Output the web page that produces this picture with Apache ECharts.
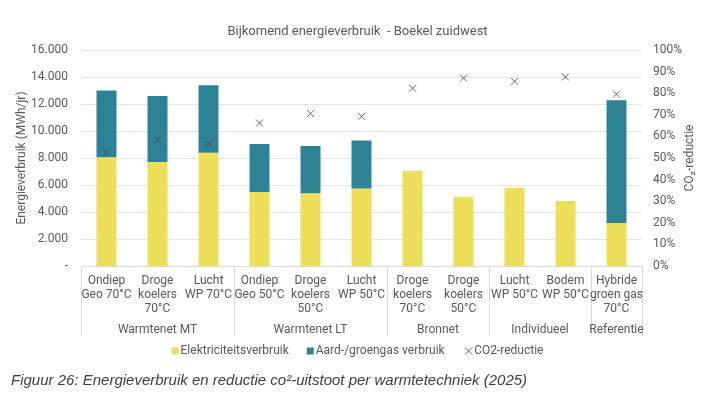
<!DOCTYPE html>
<html>
<head>
<meta charset="utf-8">
<script src="https://cdn.jsdelivr.net/npm/echarts@6/dist/echarts.min.js"></script>
<style>
html,body{margin:0;padding:0;background:#fff;}
#c{width:715px;height:393px;}
</style>
</head>
<body>
<div id="c"></div>
<script>
const categories = ["Ondiep\nGeo 70°C", "Droge\nkoelers\n70°C", "Lucht\nWP 70°C", "Ondiep\nGeo 50°C", "Droge\nkoelers\n50°C", "Lucht\nWP 50°C", "Droge\nkoelers\n70°C", "Droge\nkoelers\n50°C", "Lucht\nWP 50°C", "Bodem\nWP 50°C", "Hybride\ngroen gas\n70°C"];
const groupNames = ["Warmtenet MT", "Warmtenet LT", "Bronnet", "Individueel", "Referentie"];
const groupSizes = [3, 3, 2, 2, 1];
const elektriciteit = [8050, 7700, 8390, 5480, 5385, 5750, 7040, 5110, 5800, 4815, 3185];
const gas = [4950, 4900, 5000, 3550, 3500, 3550, 0, 0, 0, 0, 9100];
const co2 = [52.6, 58.6, 56.6, 66.2, 70.5, 69.3, 82.3, 87.0, 85.5, 87.5, 79.6];

// group boundaries and centers derived from group sizes
const bounds = [0];
groupSizes.forEach(s => bounds.push(bounds[bounds.length - 1] + s));
const centers = groupSizes.map((s, i) => bounds[i] + s / 2);

const txt = '#595959';
const font = 'Roboto';
const crossPath = 'path://M0,0L10,10M10,0L0,10';

const chart = echarts.init(document.getElementById('c'));
chart.setOption({
  animation: false,
  textStyle: { fontFamily: font, color: txt },
  title: [
    { text: 'Bijkomend energieverbruik  - Boekel zuidwest', left: 'center', top: 20,
      textStyle: { fontFamily: font, fontSize: 13, fontWeight: 'normal', color: txt } },
    { text: 'Figuur 26: Energieverbruik en reductie co²-uitstoot per warmtetechniek (2025)', left: 6, top: 368,
      textStyle: { fontFamily: 'Liberation Sans', fontSize: 15, fontStyle: 'italic', fontWeight: 'normal', color: '#404040' } }
  ],
  legend: {
    left: 'center', top: 340, itemWidth: 7, itemHeight: 7, itemGap: 18,
    textStyle: { fontFamily: font, fontSize: 12, color: txt, padding: [0, 0, 0, -3] },
    data: [
      { name: 'Elektriciteitsverbruik', icon: 'rect' },
      { name: 'Aard-/groengas verbruik', icon: 'rect' },
      { name: 'CO2-reductie', icon: crossPath, itemStyle: { color: 'none', borderColor: '#404040', borderWidth: 1 } }
    ]
  },
  grid: { left: 81, right: 73, top: 50, bottom: 127, containLabel: false },
  xAxis: [
    {
      type: 'category', data: categories, gridIndex: 0, position: 'bottom',
      axisLine: { show: true, lineStyle: { color: '#d9d9d9' } },
      axisTick: { show: false },
      axisLabel: { interval: 0, fontFamily: font, fontSize: 12, color: txt, lineHeight: 14, margin: 8 },
      splitLine: { show: false }
    },
    {
      type: 'value', min: 0, max: categories.length, gridIndex: 0, position: 'bottom',
      axisLine: { show: false },
      axisTick: { show: true, customValues: bounds, length: 70, lineStyle: { color: '#d9d9d9' } },
      axisLabel: {
        customValues: centers, margin: 58, fontFamily: font, fontSize: 12, color: txt,
        formatter: v => { const i = centers.indexOf(v); return i >= 0 ? groupNames[i] : ''; }
      },
      splitLine: { show: false }
    }
  ],
  yAxis: [
    {
      type: 'value', min: 0, max: 16000, interval: 2000,
      name: 'Energieverbruik (MWh/jr)', nameLocation: 'middle', nameGap: 53, nameRotate: 90,
      nameMoveOverlap: false,
      nameTextStyle: { fontFamily: font, fontSize: 12, color: txt },
      axisLine: { show: false }, axisTick: { show: false },
      axisLabel: { fontFamily: font, fontSize: 12, color: txt, margin: 13,
        formatter: v => v === 0 ? '-' : String(v).replace(/\B(?=(\d{3})+(?!\d))/g, '.') },
      splitLine: { lineStyle: { color: '#e4e4e4' } }
    },
    {
      type: 'value', min: 0, max: 100, interval: 10, position: 'right',
      name: 'CO₂-reductie', nameLocation: 'middle', nameGap: 42, nameRotate: 90,
      nameMoveOverlap: false,
      nameTextStyle: { fontFamily: font, fontSize: 12, color: txt },
      axisLine: { show: false }, axisTick: { show: false },
      axisLabel: { fontFamily: font, fontSize: 12, color: txt, margin: 11, formatter: '{value}%' },
      splitLine: { show: false }
    }
  ],
  series: [
    { name: 'Elektriciteitsverbruik', type: 'bar', stack: 'e', data: elektriciteit, barWidth: 20,
      itemStyle: { color: '#EDDF5A' } },
    { name: 'Aard-/groengas verbruik', type: 'bar', stack: 'e', data: gas, barWidth: 20,
      itemStyle: { color: '#2E8296' } },
    { name: 'CO2-reductie', type: 'scatter', yAxisIndex: 1, data: co2, symbol: crossPath, symbolSize: 7,
      itemStyle: { color: 'none', borderColor: '#404040', borderWidth: 1 }, z: 5 }
  ]
});
</script>
</body>
</html>
